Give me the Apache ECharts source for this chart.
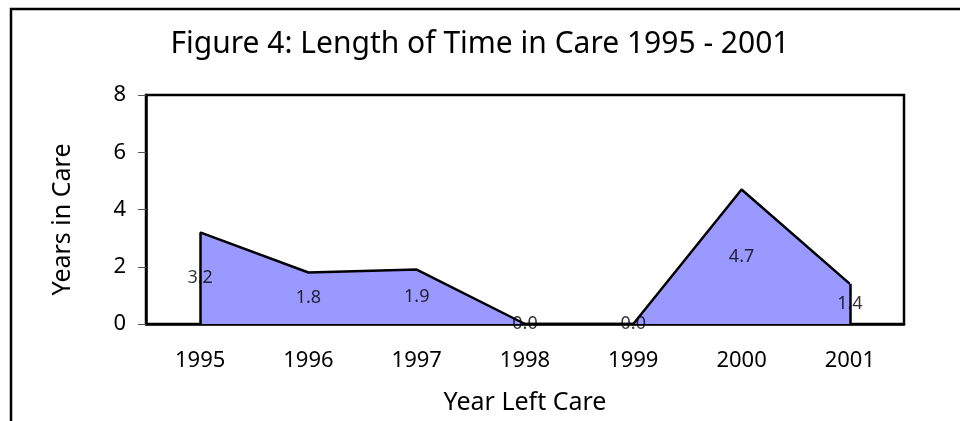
<!DOCTYPE html>
<html>
<head>
<meta charset="utf-8">
<script src="https://cdn.jsdelivr.net/npm/echarts@6/dist/echarts.min.js"></script>
<style>
  html, body { margin: 0; padding: 0; background: #fff; }
  #main { width: 960px; height: 421px; }
</style>
</head>
<body>
<div id="main"></div>
<script>
// data
var years = ['1995', '1996', '1997', '1998', '1999', '2000', '2001'];
var yearsInCare = [3.2, 1.8, 1.9, 0.0, 0.0, 4.7, 1.4];
var yTicks = [0, 2, 4, 6, 8];

var font = 'Noto Sans';
var myChart = echarts.init(document.getElementById('main'));

// labels sit half way up the area, like the original
var labelData = years.map(function (y, i) {
    return [y, yearsInCare[i] / 2, yearsInCare[i]];
});

var last = years.length - 1;

var option = {
    animation: false,
    title: {
        text: 'Figure 4: Length of Time in Care 1995 - 2001',
        left: 'center',
        top: 24,
        textStyle: { fontFamily: font, fontSize: 30, fontWeight: 'normal', color: '#000' }
    },
    graphic: [{
        type: 'rect',
        shape: { x: 11, y: 9, width: 1200, height: 800 },
        style: { fill: 'none', stroke: '#000', lineWidth: 2.5 }
    }],
    grid: {
        left: 146, right: 56, top: 95, bottom: 97,
        show: true, borderColor: '#000', borderWidth: 2.5
    },
    xAxis: {
        type: 'category',
        data: years,
        boundaryGap: true,
        name: 'Year Left Care',
        nameLocation: 'middle',
        nameGap: 66,
        nameTextStyle: { fontFamily: font, fontSize: 25, color: '#000' },
        axisLine: { lineStyle: { color: '#000', width: 2.5 } },
        axisTick: { length: 8, lineStyle: { color: '#555' } },
        axisLabel: { margin: 26, fontFamily: font, fontSize: 22, color: '#000' },
        splitLine: { show: false }
    },
    yAxis: {
        type: 'value',
        min: yTicks[0],
        max: yTicks[yTicks.length - 1],
        interval: 2,
        name: 'Years in Care',
        nameLocation: 'middle',
        nameGap: 71,
        nameTextStyle: { fontFamily: font, fontSize: 25, color: '#000', padding: [0, 20, 0, 0] },
        axisLine: { show: true, lineStyle: { color: '#000', width: 2.5 } },
        axisTick: { show: true, length: 8, lineStyle: { color: '#555' } },
        axisLabel: { margin: 20, fontFamily: font, fontSize: 22, color: '#000' },
        splitLine: { show: false }
    },
    series: [{
        name: 'Years in Care',
        type: 'line',
        data: yearsInCare,
        showSymbol: false,
        lineStyle: { color: '#000', width: 2.5 },
        areaStyle: { color: '#9999FF', opacity: 1 },
        markLine: {
            silent: true,
            symbol: 'none',
            label: { show: false },
            lineStyle: { color: '#000', width: 2.5, type: 'solid' },
            data: [
                [{ coord: [years[0], 0] }, { coord: [years[0], yearsInCare[0]] }],
                [{ coord: [years[last], 0] }, { coord: [years[last], yearsInCare[last]] }]
            ]
        }
    }, {
        type: 'scatter',
        data: labelData,
        symbolSize: 1,
        itemStyle: { color: 'rgba(0,0,0,0)' },
        z: 5,
        label: {
            show: true,
            position: 'inside',
            fontFamily: font,
            fontSize: 18,
            color: '#000',
            formatter: function (p) { return p.data[2].toFixed(1); }
        }
    }]
};

myChart.setOption(option);
</script>
</body>
</html>
